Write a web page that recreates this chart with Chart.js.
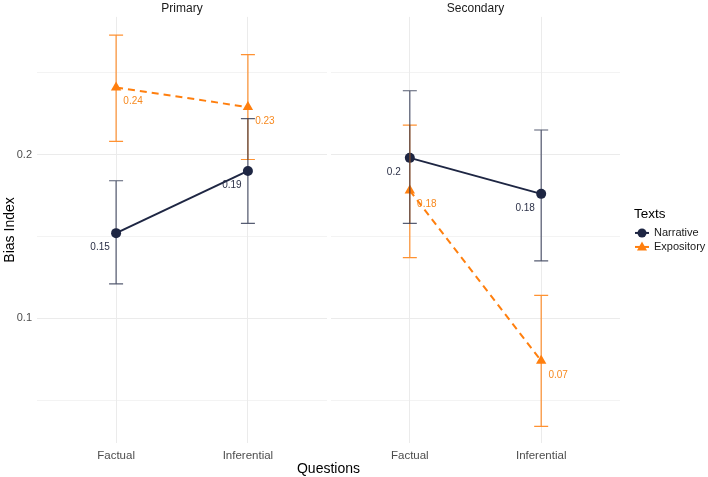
<!DOCTYPE html>
<html>
<head>
<meta charset="utf-8">
<script src="https://cdn.jsdelivr.net/npm/chart.js@4"></script>
<style>
  body { margin: 0; background: #fff; font-family: "Liberation Sans", Arial, sans-serif; }
  #wrap { position: relative; width: 708px; height: 477px; }
  #left { position: absolute; left: 0; top: 0; }
  #right { position: absolute; left: 329px; top: 0; }
  #xtitle { position: absolute; left: 0; width: 657px; top: 460px; text-align: center; font-size: 14px; color: #000; }
</style>
</head>
<body>
<div id="wrap">
  <canvas id="left" width="329" height="477"></canvas>
  <canvas id="right" width="379" height="477"></canvas>
  <div id="xtitle">Questions</div>
</div>
<script>
const questions = ['Factual', 'Inferential']
const textTypes = ['Narrative', 'Expository']

// Primary panel
const primaryNarrative = [0.152, 0.190]
const primaryNarrativeLo = [0.121, 0.158]
const primaryNarrativeHi = [0.184, 0.222]
const primaryExpository = [0.241, 0.229]
const primaryExpositoryLo = [0.208, 0.197]
const primaryExpositoryHi = [0.273, 0.261]

// Secondary panel
const secondaryNarrative = [0.198, 0.176]
const secondaryNarrativeLo = [0.158, 0.135]
const secondaryNarrativeHi = [0.239, 0.215]
const secondaryExpository = [0.178, 0.074]
const secondaryExpositoryLo = [0.137, 0.034]
const secondaryExpositoryHi = [0.218, 0.114]

const yTicks = [0.05, 0.1, 0.15, 0.2, 0.25]
const yLabels = ['0.1', '0.2']

const navy = '#1e2643'
const orange = '#ff7f0e'
const font = '"Liberation Sans", Arial, sans-serif'

const pts = arr => arr.map((v, i) => ({x: i + 1, y: v}))
const fmt = v => String(Number(v.toFixed(2)))

const errorBars = {
    id: 'errorBars',
    afterDatasetsDraw(chart) {
        const ctx = chart.ctx, xs = chart.scales.x, ys = chart.scales.y
        // expository bars first, narrative on top
        ;[1, 0].forEach(di => {
            const ds = chart.data.datasets[di]
            ctx.save()
            ctx.strokeStyle = ds.barColor
            ctx.lineWidth = 1.2
            ds.data.forEach((p, i) => {
                const x = xs.getPixelForValue(p.x)
                const yl = ys.getPixelForValue(ds.lo[i]), yh = ys.getPixelForValue(ds.hi[i])
                ctx.beginPath()
                ctx.moveTo(x, yl); ctx.lineTo(x, yh)
                ctx.moveTo(x - 7, yl); ctx.lineTo(x + 7, yl)
                ctx.moveTo(x - 7, yh); ctx.lineTo(x + 7, yh)
                ctx.stroke()
            })
            ctx.restore()
        })
        // value labels
        chart.data.datasets.forEach(ds => {
            ctx.save()
            ctx.font = '10px ' + font
            ctx.fillStyle = ds.labelColor
            ctx.textAlign = 'center'
            ctx.textBaseline = 'middle'
            ds.data.forEach(p => {
                const x = xs.getPixelForValue(p.x), y = ys.getPixelForValue(p.y)
                ctx.fillText(fmt(p.y), x + ds.labelDx, y + 14)
            })
            ctx.restore()
        })
    }
}

const legendPlugin = {
    id: 'sideLegend',
    afterDraw(chart) {
        if (!chart.options.plugins.sideLegend.show) return
        const ctx = chart.ctx
        const x0 = chart.chartArea.right + 14
        const yMid = (chart.chartArea.top + chart.chartArea.bottom) / 2
        ctx.save()
        ctx.fillStyle = '#000'
        ctx.font = '13.5px ' + font
        ctx.textBaseline = 'middle'
        ctx.fillText('Texts', x0, yMid - 16)
        ctx.font = '11px ' + font
        const cols = [navy, orange]
        textTypes.forEach((t, i) => {
            const y = yMid + 3 + i * 14
            ctx.strokeStyle = cols[i]
            ctx.fillStyle = cols[i]
            ctx.lineWidth = 2
            ctx.beginPath(); ctx.moveTo(x0 + 1, y); ctx.lineTo(x0 + 15, y); ctx.stroke()
            ctx.beginPath()
            if (i === 0) ctx.arc(x0 + 8, y, 4.5, 0, Math.PI * 2)
            else { ctx.moveTo(x0 + 8, y - 5.5); ctx.lineTo(x0 + 13, y + 3.5); ctx.lineTo(x0 + 3, y + 3.5); ctx.closePath() }
            ctx.fill()
            ctx.fillStyle = '#1a1a1a'
            ctx.fillText(t, x0 + 20, y)
        })
        ctx.restore()
    }
}

function makePanel(id, title, narr, narrLo, narrHi, expo, expoLo, expoHi, showY, padding, showLegend) {
    return new Chart(document.getElementById(id), {
        type: 'line',
        data: {
            datasets: [{
                label: 'Narrative',
                data: pts(narr), lo: narrLo, hi: narrHi,
                borderColor: navy, backgroundColor: navy, borderWidth: 2,
                pointStyle: 'circle', pointRadius: 5, pointBorderWidth: 0,
                barColor: 'rgba(30,38,67,0.75)', labelColor: '#2b3047', labelDx: -16
            }, {
                label: 'Expository',
                data: pts(expo), lo: expoLo, hi: expoHi,
                borderColor: orange, backgroundColor: orange, borderWidth: 2, borderDash: [7, 5],
                pointStyle: 'triangle', pointRadius: 6, pointBorderWidth: 0,
                barColor: 'rgba(255,127,14,0.85)', labelColor: '#f7891f', labelDx: 17
            }]
        },
        options: {
            responsive: false,
            animation: false,
            layout: { padding: padding, autoPadding: false },
            plugins: {
                legend: { display: false },
                tooltip: { enabled: false },
                sideLegend: { show: showLegend },
                title: {
                    display: true, text: title, fullSize: false, color: '#1a1a1a',
                    font: { family: font, size: 12, weight: 'normal' },
                    padding: { top: 1, bottom: 1.5 }
                }
            },
            scales: {
                x: {
                    type: 'linear', min: 0.4, max: 2.6,
                    afterBuildTicks: s => { s.ticks = [{value: 1}, {value: 2}] },
                    afterFit: s => { s.height = 34 },
                    ticks: {
                        callback: v => questions[v - 1], color: '#4d4d4d', padding: 6,
                        font: { family: font, size: 11.5 }
                    },
                    grid: { color: '#ebebeb', lineWidth: 1, drawTicks: false },
                    border: { display: false }
                },
                y: {
                    display: true,
                    min: 0.0238, max: 0.2841,
                    afterBuildTicks: s => { s.ticks = yTicks.map(v => ({value: v})) },
                    afterFit: s => { s.width = showY ? 37 : 0 },
                    ticks: {
                        display: showY,
                        callback: v => { const l = fmt(v); return yLabels.includes(l) ? l : '' },
                        color: '#4d4d4d', padding: 5,
                        font: { family: font, size: 11 }
                    },
                    title: {
                        display: showY, text: 'Bias Index', color: '#000', padding: { top: 2, bottom: 0 },
                        font: { family: font, size: 14 }
                    },
                    grid: {
                        color: '#ebebeb', drawTicks: false,
                        lineWidth: c => [0.1, 0.2].includes(Number(c.tick.value.toFixed(2))) ? 1 : 0.6
                    },
                    border: { display: false }
                }
            }
        },
        plugins: [errorBars, legendPlugin]
    })
}

makePanel('left', 'Primary', primaryNarrative, primaryNarrativeLo, primaryNarrativeHi,
    primaryExpository, primaryExpositoryLo, primaryExpositoryHi, true,
    { left: 0, right: 2, top: 0, bottom: 0 }, false)
makePanel('right', 'Secondary', secondaryNarrative, secondaryNarrativeLo, secondaryNarrativeHi,
    secondaryExpository, secondaryExpositoryLo, secondaryExpositoryHi, false,
    { left: 2, right: 88, top: 0, bottom: 0 }, true)
</script>
</body>
</html>
